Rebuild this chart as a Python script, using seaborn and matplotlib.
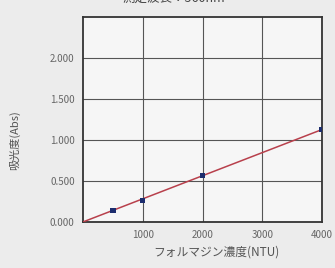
import numpy as np
import pandas as pd
import matplotlib
matplotlib.use("Agg")
import matplotlib.pyplot as plt
import seaborn as sns

# data
conc = [500, 1000, 2000, 4000]
absorb = [0.135, 0.265, 0.565, 1.13]
x_ticks = [1000, 2000, 3000, 4000]
y_ticks = [0.0, 0.5, 1.0, 1.5, 2.0]
y_labels = ["0.000", "0.500", "1.000", "1.500", "2.000"]
fit_range = [0, 4000]

sns.set_style("white")
plt.rcParams['font.family'] = ['Noto Sans CJK JP', 'DejaVu Sans']

df = pd.DataFrame({"conc": conc, "abs": absorb})
# least squares line through the origin
slope = np.sum(df["conc"] * df["abs"]) / np.sum(df["conc"] ** 2)
fit = pd.DataFrame({"conc": fit_range, "abs": [slope * v for v in fit_range]})

fig = plt.figure(figsize=(3.35, 2.68), dpi=100, facecolor="#ececec")
ax = fig.add_axes([0.248, 0.172, 0.713, 0.765])
ax.set_facecolor("#f6f6f6")

sns.lineplot(data=fit, x="conc", y="abs", ax=ax, color="#b8404c", linewidth=1.1, zorder=3)
sns.scatterplot(data=df, x="conc", y="abs", ax=ax, color="#1c2d6e", marker="s",
                s=14, edgecolor="none", zorder=4)

ax.set_xlim(0, 4000)
ax.set_ylim(0, 2.5)
ax.set_xticks(x_ticks)
ax.set_xticklabels([str(v) for v in x_ticks])
ax.set_yticks(y_ticks)
ax.set_yticklabels(y_labels)
ax.grid(True, color="#555555", linewidth=0.8)
ax.set_axisbelow(True)
for s in ax.spines.values():
    s.set_color("#333333")
    s.set_linewidth(1.3)
ax.tick_params(length=0, labelsize=7, labelcolor="#666666", pad=6)

ax.set_xlabel("フォルマジン濃度(NTU)", fontsize=8.5, color="#555555")
ax.set_ylabel("吸光度(Abs)", fontsize=8, color="#555555")
ax.xaxis.set_label_coords(0.56, -0.115)
ax.yaxis.set_label_coords(-0.265, 0.4)

fig.text(0.52, 1.005, "測定波長：560nm", ha="center", va="center",
         fontsize=9, color="#444444")

fig.savefig("out.png", dpi=100, facecolor=fig.get_facecolor())
